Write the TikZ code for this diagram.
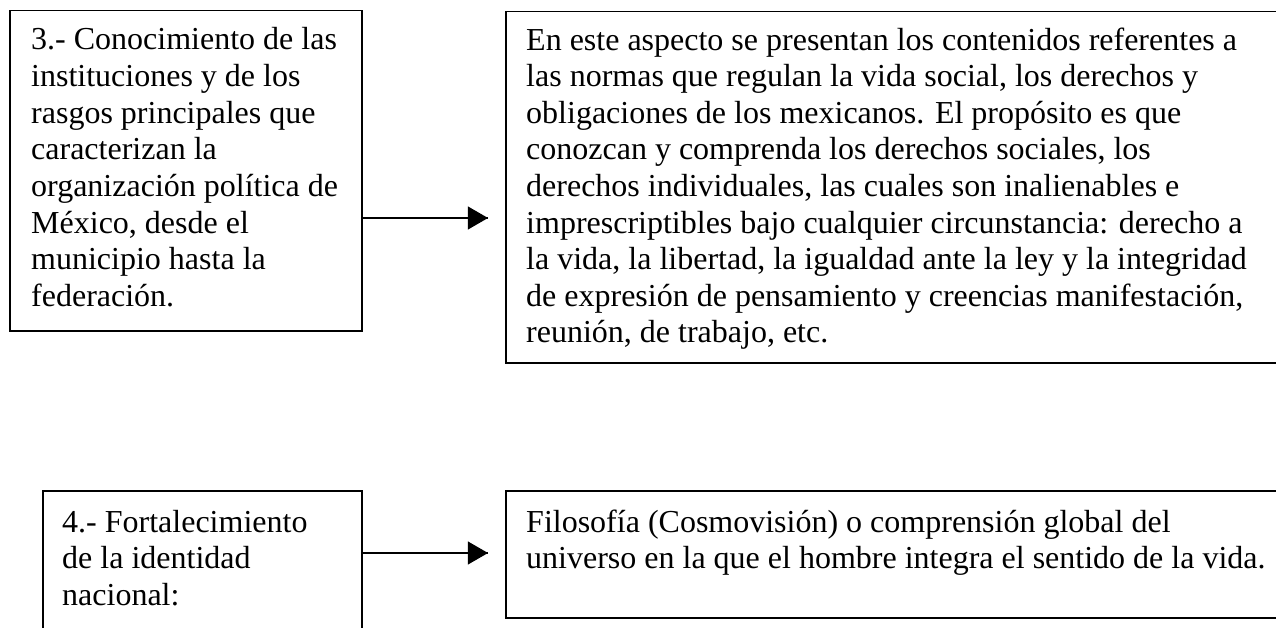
\documentclass[tikz,border=0pt]{standalone}
\usepackage{fontspec}
\setmainfont{Liberation Serif}
\usetikzlibrary{arrows}
\usetikzlibrary{decorations.markings}
\tikzset{flecha/.style = {decoration={markings,
                                  mark=at position 1 with {\arrow[scale=2.4]{triangle 60}}},
                      postaction={decorate}}}
\tikzset{caja/.style = {draw, line width = 1.5pt, anchor = north west, inner sep = 0}}
\tikzset{texto/.style = {anchor = base west, inner sep = 0, align = left,
                         font = \fontsize{32}{36.6}\selectfont}}

\begin{document}
\begin{tikzpicture}[x = 1pt, y = -1pt]
      \useasboundingbox (0, 0) rectangle (1276, 628);
      \clip (0, 0) rectangle (1276, 628);

      \node [caja, minimum width = 352, minimum height = 320] (c3) at (9, 10) {};
      \node [caja, minimum width = 800, minimum height = 351] (d3) at (505, 11) {};
      \node [caja, minimum width = 319, minimum height = 200] (c4) at (42, 490) {};
      \node [caja, minimum width = 800, minimum height = 127] (d4) at (505, 490) {};

      \node [texto] (t3) at (31, 306.2) {3.- Conocimiento de las\\ instituciones y de los\\ rasgos principales que\\ caracterizan la\\ organización política de\\ México, desde el\\ municipio hasta la\\ federación.};
      \node [texto] (s3) at (526, 342.8) {En este aspecto se presentan los contenidos referentes a\\ las normas que regulan la vida social, los derechos y\\ obligaciones de los mexicanos. El propósito es que\\ conozcan y comprenda los derechos sociales, los\\ derechos individuales, las cuales son inalienables e\\ imprescriptibles bajo cualquier circunstancia: derecho a\\ la vida, la libertad, la igualdad ante la ley y la integridad\\ de expresión de pensamiento y creencias manifestación,\\ reunión, de trabajo, etc.};
      \node [texto] (t4) at (62, 605.2) {4.- Fortalecimiento\\ de la identidad\\ nacional:};
      \node [texto] (s4) at (526, 568.6) {Filosofía (Cosmovisión) o comprensión global del\\ universo en la que el hombre integra el sentido de la vida.};

      \coordinate (f3) at (488, 218);
      \coordinate (f4) at (488, 553);
      \draw [flecha, line width = 1.3pt] (c3.east |- f3) -- (f3);
      \draw [flecha, line width = 1.3pt] (c4.east |- f4) -- (f4);
    \end{tikzpicture}
\end{document}
